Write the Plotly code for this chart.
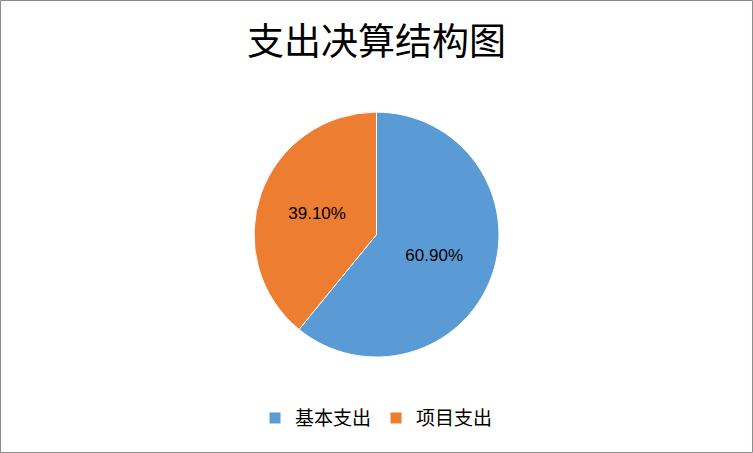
import plotly.graph_objects as go

# data
labels = ['基本支出', '项目支出']
values = [60.90, 39.10]
colors = ['#5B9BD5', '#ED7D31']

fig = go.Figure()
fig.add_trace(go.Pie(labels=labels, values=values,
                     marker=dict(colors=colors, line=dict(color='white', width=1)),
                     sort=False, direction='clockwise', rotation=0,
                     texttemplate='%{percent:.2%}', textposition='inside',
                     insidetextorientation='horizontal',
                     textfont=dict(size=17, color='black', family='Liberation Sans'),
                     domain=dict(x=[0, 1], y=[0.2118, 0.7525])))

fig.update_layout(width=753, height=453,
                  margin=dict(l=0, r=0, t=0, b=0),
                  paper_bgcolor='white', plot_bgcolor='white',
                  font=dict(family='Noto Sans CJK SC', color='black'),
                  title=dict(text='支出决算结构图', x=0.5, xanchor='center',
                             y=0.907, yanchor='middle',
                             font=dict(size=37, color='black', family='Noto Sans CJK SC')),
                  legend=dict(orientation='h', x=0.5, xanchor='center',
                              y=0.077, yanchor='middle',
                              font=dict(size=19, color='black'),
                              itemwidth=30),
                  shapes=[dict(type='rect', xref='paper', yref='paper',
                               x0=0.0007, x1=0.9993, y0=0.0011, y1=0.9989,
                               line=dict(color='#898989', width=1))])

fig.write_html("out.html", config={'displayModeBar': False},
               post_script="document.body.style.margin='0';")
